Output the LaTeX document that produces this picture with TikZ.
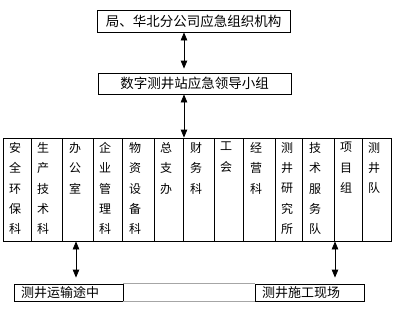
\documentclass[tikz,border=0pt]{standalone}
\usepackage{fontspec}
\newfontfamily\cjk{Noto Sans CJK SC}
\usetikzlibrary{arrows.meta}

\tikzset{
  box/.style={draw, line width=0.8pt, inner sep=0pt, font=\cjk\fontsize{13.5}{16}\selectfont},
  site/.style={draw, line width=0.8pt, inner xsep=7pt, inner ysep=0pt, text width=95pt, align=left, minimum height=17pt, font=\cjk\fontsize{13}{15}\selectfont},
  dept/.style={anchor=north west, inner sep=0pt, align=left, font=\cjk\fontsize{12}{20.4}\selectfont},
  link/.style={line width=0.8pt, {Triangle[length=8pt,width=6.5pt]}-{Triangle[length=8pt,width=6.5pt]}},
  grid/.style={gray!70, line width=0.6pt}
}

\begin{document}
\begin{tikzpicture}[x=1pt, y=-1pt]
    \useasboundingbox (0,0) rectangle (398,309);

    % Command levels
    \node[box, minimum width=193pt, minimum height=22pt] (jigou) at (193.5,21) {局、华北分公司应急组织机构};
    \node[box, minimum width=193pt, minimum height=21pt] (lingdao) at (194.5,83.5) {数字测井站应急领导小组};

    % Department table
    \node[draw, line width=0.8pt, minimum width=388pt, minimum height=103pt, inner sep=0pt] (depts) at (197,189.5) {};
    \draw[line width=0.8pt] (31,138) -- (31,241);
    \draw[line width=0.8pt] (62,138) -- (62,241);
    \draw[line width=0.8pt] (93,138) -- (93,241);
    \draw[line width=0.8pt] (122,138) -- (122,241);
    \draw[line width=0.8pt] (154,138) -- (154,241);
    \draw[line width=0.8pt] (183,138) -- (183,241);
    \draw[line width=0.8pt] (214,138) -- (214,241);
    \draw[line width=0.8pt] (243,138) -- (243,241);
    \draw[line width=0.8pt] (275,138) -- (275,241);
    \draw[line width=0.8pt] (302,138) -- (302,241);
    \draw[line width=0.8pt] (334,138) -- (334,241);
    \draw[line width=0.8pt] (362,138) -- (362,241);

    \node[dept] (anbao) at (9,142) {安\\全\\环\\保\\科};
    \node[dept] (shengchan) at (37,142) {生\\产\\技\\术\\科};
    \node[dept] (bangong) at (69,142) {办\\公\\室};
    \node[dept] (qiguan) at (99,142) {企\\业\\管\\理\\科};
    \node[dept] (wuzi) at (129,142) {物\\资\\设\\备\\科};
    \node[dept] (zongzhi) at (160,142) {总\\支\\办};
    \node[dept] (caiwu) at (190,142) {财\\务\\科};
    \node[dept] (gonghui) at (220,142) {工\\会};
    \node[dept] (jingying) at (250,142) {经\\营\\科};
    \node[dept] (yanjiu) at (281,142) {测\\井\\研\\究\\所};
    \node[dept] (jifu) at (309,142) {技\\术\\服\\务\\队};
    \node[dept] (xiangmu) at (340,142) {项\\目\\组};
    \node[dept] (cejing) at (368,142) {测\\井\\队};

    % Sites
    \node[site] (yunshu) at (68.5,292.5) {测井运输途中};
    \node[site] (shigong) at (309.5,292.5) {测井施工现场};
    \draw[grid] (yunshu.north east) -- (shigong.north west);
    \draw[grid] (yunshu.south east) -- (shigong.south west);

    % Links
    \draw[link, shorten >=4pt] ([xshift=-9.5pt]jigou.south) -- ([xshift=-9.5pt]jigou.south |- lingdao.north);
    \draw[link] ([xshift=-10.5pt]lingdao.south) -- ([xshift=-10.5pt]lingdao.south |- depts.north);
    \draw[link, shorten >=6pt] ([xshift=7.5pt]yunshu.north |- depts.south) -- ([xshift=7.5pt]yunshu.north);
    \draw[link, shorten >=6pt] ([xshift=25.5pt]shigong.north |- depts.south) -- ([xshift=25.5pt]shigong.north);
\end{tikzpicture}
\end{document}
